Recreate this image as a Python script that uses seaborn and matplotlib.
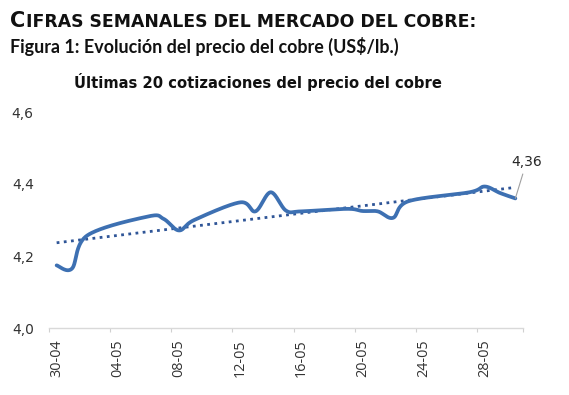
import numpy as np
import pandas as pd
import matplotlib
matplotlib.use("Agg")
import matplotlib.pyplot as plt
import seaborn as sns
from matplotlib.ticker import FixedLocator, FuncFormatter, NullFormatter

# ---------------- data ----------------
fechas = ["2025-04-30", "2025-05-01", "2025-05-02", "2025-05-06", "2025-05-07",
          "2025-05-08", "2025-05-09", "2025-05-12", "2025-05-13", "2025-05-14",
          "2025-05-15", "2025-05-16", "2025-05-19", "2025-05-20", "2025-05-21",
          "2025-05-22", "2025-05-23", "2025-05-27", "2025-05-28", "2025-05-29",
          "2025-05-30"]
precios = [4.174, 4.165, 4.257, 4.310, 4.303, 4.271, 4.300, 4.349, 4.324, 4.377,
           4.326, 4.324, 4.331, 4.325, 4.324, 4.306, 4.352, 4.377, 4.393, 4.375,
           4.360]
etiquetas_x = ["30-04", "04-05", "08-05", "12-05", "16-05", "20-05", "24-05", "28-05"]
ticks_y = [4.0, 4.2, 4.4, 4.6]
ultimo_txt = "4,36"

titulo = "Últimas 20 cotizaciones del precio del cobre"
subtitulo = "Figura 1: Evolución del precio del cobre (US$/lb.)"
encabezado_c = "C"
encabezado_resto = "IFRAS SEMANALES DEL MERCADO DEL COBRE:"

# ---------------- helpers ----------------
base = pd.Timestamp("2025-04-30")
dias = np.array([(pd.Timestamp(f) - base).days for f in fechas], dtype=float)
dias_lbl = np.array([(pd.to_datetime(l + "-2025", format="%d-%m-%Y") - base).days
                     for l in etiquetas_x], dtype=float)


def excel_smooth(x, y, n=40):
    P = np.column_stack([x, y])
    out = []
    m = len(P)
    for i in range(m - 1):
        p0 = P[max(i - 1, 0)]
        p1 = P[i]
        p2 = P[i + 1]
        p3 = P[min(i + 2, m - 1)]
        c1 = p1 + (p2 - p0) / 6.0
        c2 = p2 - (p3 - p1) / 6.0
        t = np.linspace(0, 1, n, endpoint=(i == m - 2))[:, None]
        seg = (1 - t) ** 3 * p1 + 3 * (1 - t) ** 2 * t * c1 + 3 * (1 - t) * t ** 2 * c2 + t ** 3 * p2
        out.append(seg)
    return np.vstack(out)


smooth = excel_smooth(dias, np.array(precios))
df_s = pd.DataFrame({"x": smooth[:, 0], "y": smooth[:, 1]})

# ---------------- figure ----------------
sns.set_theme(style="white")
W, H = 569, 395
fig = plt.figure(figsize=(W / 100, H / 100), dpi=100)
fig.patch.set_facecolor("white")
ax = fig.add_axes([49 / W, 1 - 328 / H, (523 - 49) / W, (328 - 112) / H])

line_col = "#3D70B2"
trend_col = "#2F5597"

sns.regplot(x=dias, y=np.array(precios), scatter=False, ci=None, ax=ax, truncate=True,
            line_kws=dict(color=trend_col, lw=2.0, linestyle=(0, (1, 1.6)),
                          dash_capstyle="butt"))
sns.lineplot(data=df_s, x="x", y="y", sort=False, estimator=None, ax=ax,
             color=line_col, lw=2.7, solid_capstyle="round")

ax.set_xlim(-0.5, 30.5)
ax.set_ylim(4.0, 4.6)
ax.set_xlabel("")
ax.set_ylabel("")

# x axis: tick marks at unit edges, labels at unit centres
ax.xaxis.set_major_locator(FixedLocator(list(dias_lbl - 0.5) + [30.5]))
ax.xaxis.set_major_formatter(NullFormatter())
ax.xaxis.set_minor_locator(FixedLocator(dias_lbl))
ax.xaxis.set_minor_formatter(FuncFormatter(lambda v, p: etiquetas_x[int(np.argmin(abs(dias_lbl - v)))]))
ax.tick_params(axis="x", which="major", length=3, width=0.8, color="#D0D0D0", bottom=True)
ax.tick_params(axis="x", which="minor", length=0, pad=8, labelrotation=90, bottom=True,
               labelsize=10.4, labelcolor="#333333")
for lbl in ax.get_xticklabels(minor=True):
    lbl.set_fontfamily("Open Sans")

ax.yaxis.set_major_locator(FixedLocator(ticks_y))
ax.yaxis.set_major_formatter(FuncFormatter(lambda v, p: f"{v:.1f}".replace(".", ",")))
ax.tick_params(axis="y", length=0, pad=11, labelsize=10, labelcolor="#333333")

for s in ["top", "right", "left"]:
    ax.spines[s].set_visible(False)
ax.spines["bottom"].set_color("#D9D9D9")
ax.spines["bottom"].set_linewidth(1.0)
ax.grid(False)
ax.set_facecolor("white")

# last value label
ax.annotate(ultimo_txt, xy=(dias[-1], precios[-1]), xytext=(11, 29), textcoords="offset pixels",
            ha="center", va="bottom", fontsize=10, color="#262626",
            arrowprops=dict(arrowstyle="-", color="#A0A0A0", lw=0.8, shrinkA=1, shrinkB=0))

# titles
fig.text(258 / W, 1 - 88 / H, titulo, ha="center", va="baseline", fontsize=10.6,
         fontweight="bold", color="#111111")
sub = fig.text(10 / W, 1 - 53 / H, subtitulo, ha="left", va="baseline", fontsize=12.9,
               fontweight="bold", color="#111111", family="Lato")
t1 = fig.text(10 / W, 1 - 27 / H, encabezado_c, ha="left", va="baseline", fontsize=15,
              fontweight="bold", color="#111111")
fig.canvas.draw()
bb = t1.get_window_extent()
fig.text(bb.x1 / W + 0.5 / W, 1 - 27 / H, encabezado_resto, ha="left", va="baseline",
         fontsize=12.4, fontweight="bold", color="#111111")

fig.savefig("out.png", dpi=100, facecolor="white")
